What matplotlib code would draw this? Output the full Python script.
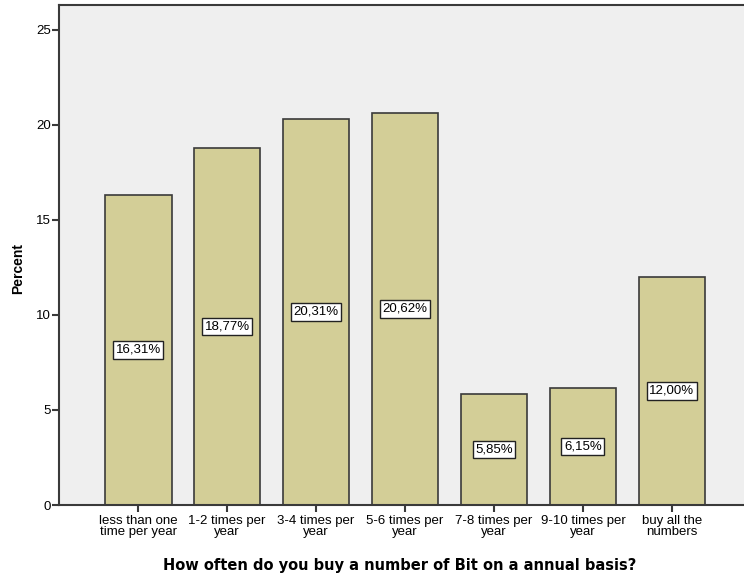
import numpy as np
import matplotlib
matplotlib.use("Agg")
import matplotlib.pyplot as plt

categories = ["less than one\ntime per year", "1-2 times per\nyear", "3-4 times per\nyear",
              "5-6 times per\nyear", "7-8 times per\nyear", "9-10 times per\nyear",
              "buy all the\nnumbers"]
percent = [16.31, 18.77, 20.31, 20.62, 5.85, 6.15, 12.00]
yticks = [0, 5, 10, 15, 20, 25]

plt.rcParams['font.family'] = ['Liberation Sans', 'DejaVu Sans']

fig = plt.figure(figsize=(7.44, 5.79), dpi=100)
ax = fig.add_axes([0.0793, 0.1278, 0.9207, 0.8636])
ax.set_facecolor('#efefef')

x = np.arange(len(categories))
ax.bar(x, percent, width=0.75, color='#d3ce97', edgecolor='#3a3a3a', linewidth=1.2, zorder=2)
for xi, v in zip(x, percent):
    ax.text(xi, v / 2, f"{v:.2f}%".replace('.', ','), ha='center', va='center', fontsize=9.5,
            bbox=dict(boxstyle='square,pad=0.2', facecolor='white', edgecolor='#222222', linewidth=1),
            zorder=3)

ax.set_xlim(-0.89, 6.81)
ax.set_ylim(0, 26.3)
ax.set_yticks(yticks)
ax.set_xticks(x)
ax.set_xticklabels(categories, fontsize=9.5, linespacing=0.9)
ax.tick_params(axis='y', labelsize=9.5, length=5, width=1.5, color='#3a3a3a', pad=1)
ax.tick_params(axis='x', length=5, width=1.5, color='#3a3a3a', pad=2)
ax.spines['right'].set_visible(False)
for s in ['left', 'bottom', 'top']:
    ax.spines[s].set_color('#3a3a3a')
    ax.spines[s].set_linewidth(1.5)

ax.set_xlabel("How often do you buy a number of Bit on a annual basis?", fontsize=10.5,
              fontweight='bold', family='DejaVu Sans')
ax.xaxis.set_label_coords((400 - 59) / 685, -(565 - 505) / 500)
ax.set_ylabel("Percent", fontsize=10, fontweight='bold')
ax.yaxis.set_label_coords(-(59 - 18) / 685, (505 - 269) / 500)
ax.xaxis.label.set_va('center')
ax.yaxis.label.set_va('center')

fig.savefig("out.png", dpi=100)
